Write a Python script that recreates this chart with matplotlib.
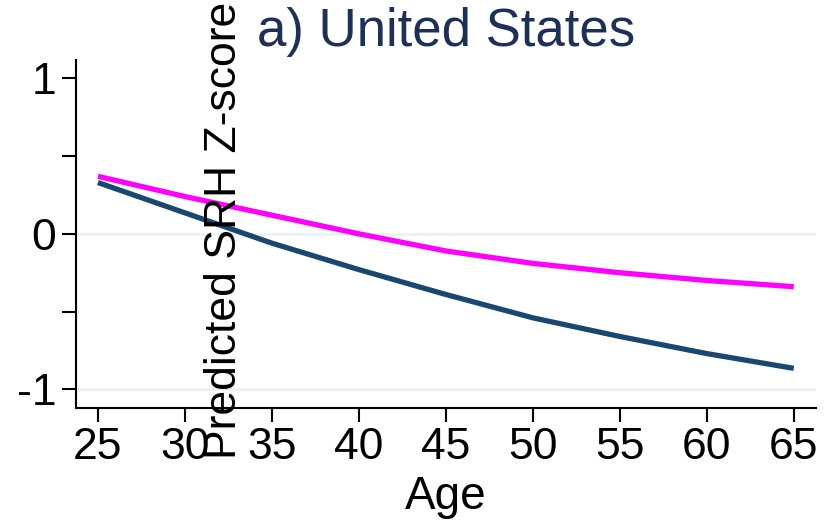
import matplotlib
matplotlib.use('Agg')
import matplotlib.pyplot as plt

# predicted self-rated health z-score by age, United States
age = [25, 30, 35, 40, 45, 50, 55, 60, 65]
srh_navy = [0.33, 0.135, -0.06, -0.23, -0.39, -0.54, -0.66, -0.77, -0.865]
srh_magenta = [0.37, 0.24, 0.12, 0.0, -0.11, -0.19, -0.25, -0.30, -0.34]

x_ticks = [25, 30, 35, 40, 45, 50, 55, 60, 65]
y_ticks = [-1, 0, 1]
y_minor = [-0.5, 0.5]

navy = '#1a476f'
plt.rcParams['font.family'] = ['Liberation Sans', 'DejaVu Sans']
plt.rcParams['axes.unicode_minus'] = False

fig = plt.figure(figsize=(8.28, 5.2), dpi=100)
ax = fig.add_axes([0.0914, 0.216, 0.8941, 0.6686])

for g in [0, -1]:
    ax.axhline(g, color='#eaf2f3', lw=2, zorder=0)

ax.plot(age, srh_navy, color=navy, lw=3.8, solid_capstyle='butt')
ax.plot(age, srh_magenta, color='#ff00ff', lw=3.8, solid_capstyle='butt')

ax.set_xlim(23.72, 66.28)
ax.set_ylim(-1.118, 1.118)
ax.set_xticks(x_ticks)
ax.set_yticks(y_ticks)
ax.set_yticks(y_minor, minor=True)
ax.tick_params(axis='both', which='both', length=10, width=1.5, labelsize=32, pad=4)
ax.tick_params(axis='y', which='minor', length=10)

for s in ['top', 'right']:
    ax.spines[s].set_visible(False)
for s in ['left', 'bottom']:
    ax.spines[s].set_linewidth(1.5)

ax.set_xlabel('Age', fontsize=33, labelpad=5)
ax.set_title('a) United States', fontsize=38, color='#1f3057', pad=10)

fig.text(225 / 828, 1 - 230 / 520, 'Predicted SRH Z-score', rotation=90,
         fontsize=32, ha='center', va='center')

plt.savefig('out.png', dpi=100)
